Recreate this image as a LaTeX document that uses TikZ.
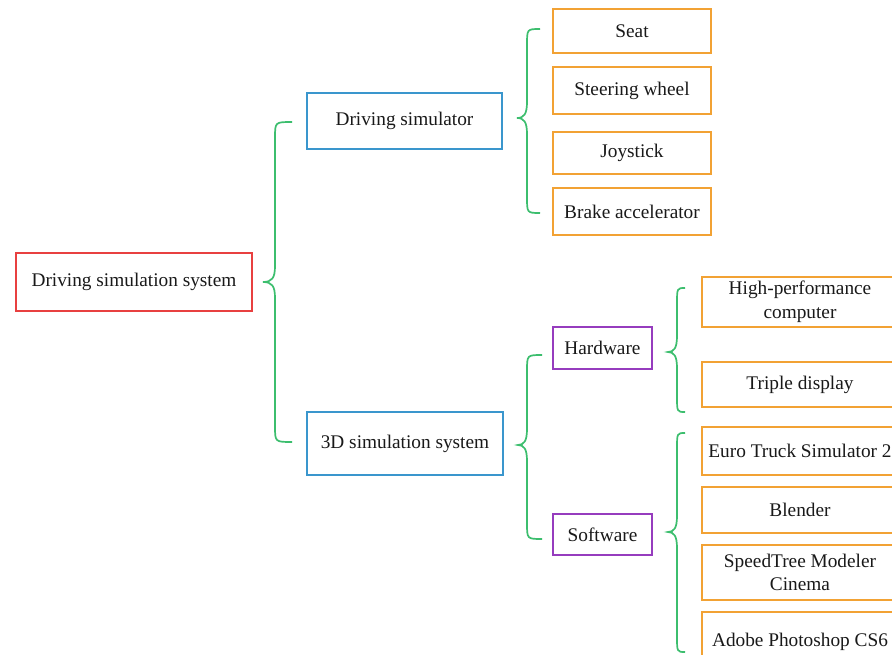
\documentclass[tikz,border=0pt]{standalone}
\usepackage{fontspec}
\setmainfont{Liberation Serif}
\definecolor{cred}{RGB}{232,64,64}
\definecolor{cblue}{RGB}{58,150,205}
\definecolor{corange}{RGB}{242,162,52}
\definecolor{cpurple}{RGB}{150,60,190}
\definecolor{cgreen}{RGB}{60,190,110}
\definecolor{ctext}{RGB}{25,25,25}
\newcommand\mybrace[6]{%
  \draw[bracestyle] ({#3},{#4}) .. controls ({#2},{#4}) and ({#2},{#4}) .. ({#2},{#4+16})
    -- ({#2},{#5-16}) .. controls ({#2},{#5-4}) and ({#2-3},{#5}) .. ({#1},{#5})
    .. controls ({#2-3},{#5}) and ({#2},{#5+4}) .. ({#2},{#5+16})
    -- ({#2},{#6-16}) .. controls ({#2},{#6}) and ({#2},{#6}) .. ({#3},{#6});}
\begin{document}
\begin{tikzpicture}[x=1pt,y=-1pt,
  box/.style={draw,line width=1.6pt,fill=white,inner sep=0pt,align=center,
    text=ctext,font=\fontsize{19.3}{23.5}\selectfont},
  rootbox/.style={box,draw=cred},
  lvlone/.style={box,draw=cblue},
  lvltwo/.style={box,draw=cpurple},
  leaf/.style={box,draw=corange},
  bracestyle/.style={draw=cgreen,line width=1.7pt}]
\clip (0,0) rectangle (892,655);
\fill[white] (0,0) rectangle (892,655);
% nodes
\node[rootbox,minimum width=236pt,minimum height=58pt] (root) at (134,282) {Driving simulation system};
\node[lvlone,minimum width=195pt,minimum height=56pt] (ds) at (404.5,121) {Driving simulator};
\node[lvlone,minimum width=196pt,minimum height=63pt] (sim) at (405,443.5) {3D simulation system};
\node[leaf,minimum width=158pt,minimum height=44pt] (seat) at (632,31) {Seat};
\node[leaf,minimum width=158pt,minimum height=47pt] (steer) at (632,90.5) {Steering wheel};
\node[leaf,minimum width=158pt,minimum height=42pt] (joy) at (632,153) {Joystick};
\node[leaf,minimum width=158pt,minimum height=47pt] (brake) at (632,211.5) {Brake accelerator};
\node[lvltwo,minimum width=99pt,minimum height=42pt] (hw) at (602.5,348) {Hardware};
\node[lvltwo,minimum width=99pt,minimum height=41pt] (sw) at (602.5,534.5) {Software};
\node[leaf,minimum width=196pt,minimum height=50pt] (hpc) at (800,302) {High-performance\\computer};
\node[leaf,minimum width=196pt,minimum height=45pt] (tri) at (800,384.5) {Triple display};
\node[leaf,minimum width=196pt,minimum height=48pt] (euro) at (800,451) {Euro Truck Simulator 2};
\node[leaf,minimum width=196pt,minimum height=46pt] (blend) at (800,510) {Blender};
\node[leaf,minimum width=196pt,minimum height=55pt] (speed) at (800,572.5) {SpeedTree Modeler\\Cinema};
\node[leaf,minimum width=196pt,minimum height=60pt] (adobe) at (800,642) {Adobe Photoshop CS6};
% braces
\mybrace{263}{275}{292}{122}{282}{442}
\mybrace{517}{527}{540}{29}{118}{213}
\mybrace{518}{527}{542}{355}{445}{539}
\mybrace{668}{677}{685}{288}{352}{412}
\mybrace{668}{677}{685}{433}{532}{652}
\end{tikzpicture}
\end{document}
